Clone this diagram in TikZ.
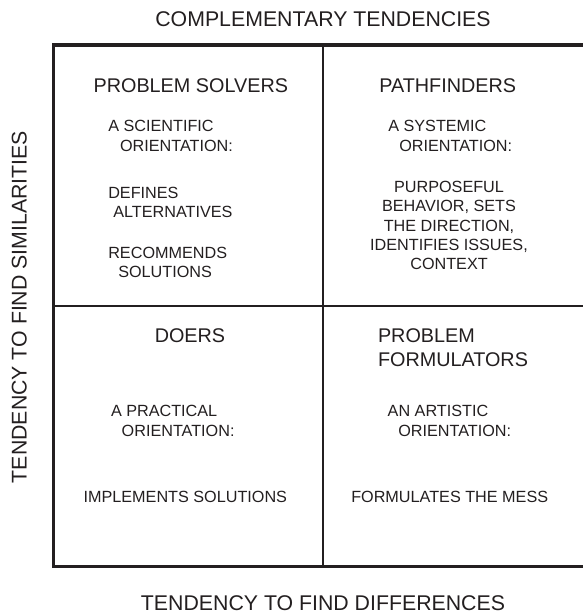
\documentclass[tikz,border=0pt]{standalone}
\usepackage{fontspec}
\setmainfont{Liberation Sans}
\definecolor{ink}{HTML}{231F20}
\begin{document}
\begin{tikzpicture}[x=1bp,y=-1bp,
  every node/.style={inner sep=0pt,outer sep=0pt,text=ink},
  head/.style={font=\fontsize{19.8bp}{24bp}\selectfont},
  body/.style={font=\fontsize{16.2bp}{19.5bp}\selectfont},
  axislbl/.style={font=\fontsize{21.3bp}{25bp}\selectfont},
  outer/.style={draw=ink,line width=3.5bp},
  inner/.style={draw=ink,line width=2bp}]
\useasboundingbox (0,0) rectangle (583,614);
\clip (0,0) rectangle (583,614);
\fill[white] (0,0) rectangle (583,614);
% frame
\coordinate (tr) at (600,45);
\coordinate (tl) at (53.5,45);
\coordinate (bl) at (53.5,566.5);
\coordinate (br) at (600,566.5);
\coordinate (mt) at (323,45);
\coordinate (mb) at (323,566.5);
\coordinate (ml) at (53.5,305.5);
\coordinate (mr) at (600,305.5);
\draw[inner] (mt) -- (mb);
\draw[inner] (ml) -- (mr);
\draw[outer] (tr) -- (tl) -- (bl) -- (br);
% axis labels
\node[axislbl,anchor=base] (title) at (323,26.8) {COMPLEMENTARY TENDENCIES};
\node[axislbl,anchor=base] (xlbl) at (323,610) {TENDENCY TO FIND DIFFERENCES};
\node[axislbl,anchor=base,rotate=90] (ylbl) at (26.7,307) {TENDENCY TO FIND SIMILARITIES};
% top-left
\node[head,anchor=base] (ps) at (190.8,93) {PROBLEM SOLVERS};
\node[body,anchor=base west] (ps1) at (108.3,131.7) {A SCIENTIFIC};
\node[body,anchor=base west] (ps2) at (120,151.7) {ORIENTATION:};
\node[body,anchor=base west] (ps3) at (108.3,198.3) {DEFINES};
\node[body,anchor=base west] (ps4) at (113.3,217.7) {ALTERNATIVES};
\node[body,anchor=base west] (ps5) at (108.3,258.3) {RECOMMENDS};
\node[body,anchor=base west] (ps6) at (118.3,277.3) {SOLUTIONS};
% top-right
\node[head,anchor=base] (pf) at (447.7,93) {PATHFINDERS};
\node[body,anchor=base west] (pf1) at (388.3,131.7) {A SYSTEMIC};
\node[body,anchor=base west] (pf2) at (399.3,151.7) {ORIENTATION:};
\node[body,anchor=base] (pf3) at (449,192.5) {PURPOSEFUL};
\node[body,anchor=base] (pf4) at (449,211.8) {BEHAVIOR, SETS};
\node[body,anchor=base] (pf5) at (449,231.1) {THE DIRECTION,};
\node[body,anchor=base] (pf6) at (449,250.4) {IDENTIFIES ISSUES,};
\node[body,anchor=base] (pf7) at (449,269.7) {CONTEXT};
% bottom-left
\node[head,anchor=base] (do) at (190,342) {DOERS};
\node[body,anchor=base west] (do1) at (111,416.7) {A PRACTICAL};
\node[body,anchor=base west] (do2) at (121.7,436) {ORIENTATION:};
\node[body,anchor=base] (do3) at (185.3,502.3) {IMPLEMENTS SOLUTIONS};
% bottom-right
\node[head,anchor=base west] (pfa) at (378,342) {PROBLEM};
\node[head,anchor=base west] (pfb) at (378,366.2) {FORMULATORS};
\node[body,anchor=base west] (pf1b) at (387.7,416.7) {AN ARTISTIC};
\node[body,anchor=base west] (pf2b) at (398.3,436) {ORIENTATION:};
\node[body,anchor=base] (pf3b) at (449.7,502.3) {FORMULATES THE MESS};
\end{tikzpicture}
\end{document}
